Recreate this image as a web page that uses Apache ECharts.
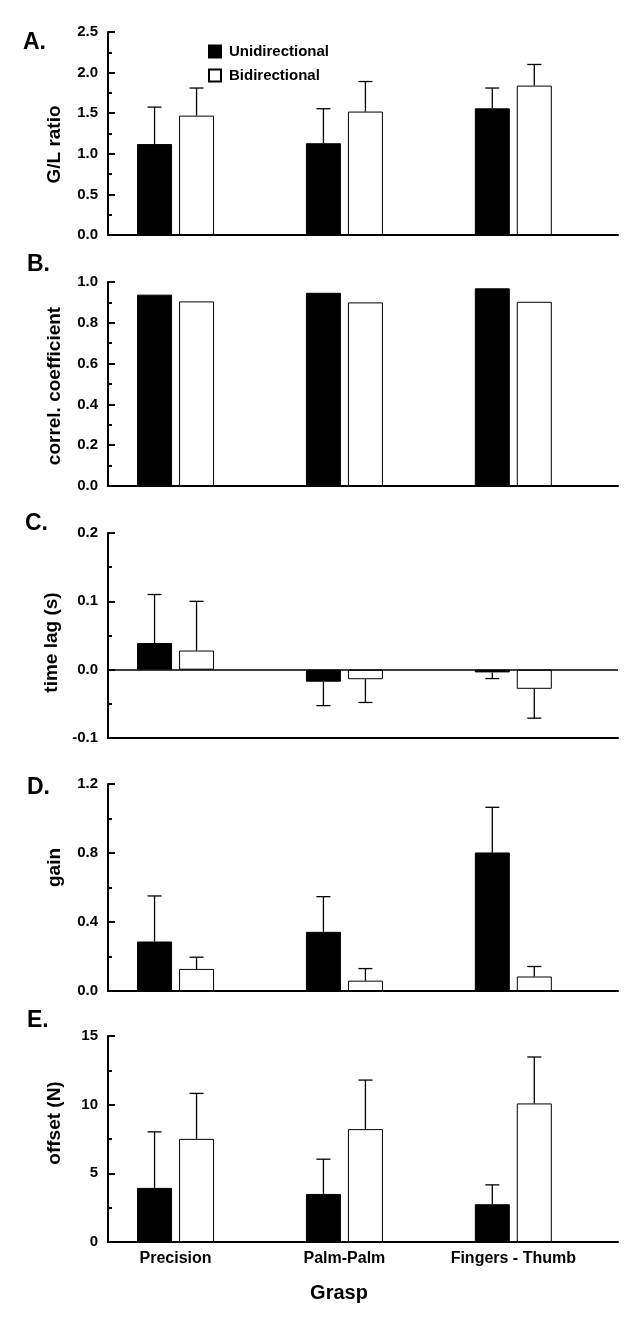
<!DOCTYPE html>
<html><head><meta charset="utf-8">
<script src="https://cdn.jsdelivr.net/npm/echarts@6/dist/echarts.min.js"></script>
<style>html,body{margin:0;padding:0;background:#fff}#c{width:643px;height:1325px}</style>
</head><body><div id="c"></div>
<script>
// ---------- data ----------
const categories = ['Precision', 'Palm-Palm', 'Fingers - Thumb'];
const seriesNames = ['Unidirectional', 'Bidirectional'];
const panelLabels = ['A.', 'B.', 'C.', 'D.', 'E.'];
const yTitles = ['G/L ratio', 'correl. coefficient', 'time lag (s)', 'gain', 'offset (N)'];
const xTitle = 'Grasp';

// A: G/L ratio
const glUni = [1.12, 1.13, 1.56];
const glUniErr = [0.455, 0.425, 0.25];
const glBi = [1.47, 1.52, 1.84];
const glBiErr = [0.34, 0.37, 0.26];
// B: correlation coefficient (no error bars)
const corUni = [0.938, 0.947, 0.969];
const corBi = [0.905, 0.900, 0.903];
// C: time lag (s)
const lagUni = [0.039, -0.0176, -0.004];
const lagUniErr = [0.071, 0.035, 0.009];
const lagBi = [0.028, -0.014, -0.028];
const lagBiErr = [0.072, 0.034, 0.043];
// D: gain
const gainUni = [0.287, 0.343, 0.803];
const gainUniErr = [0.264, 0.204, 0.262];
const gainBi = [0.128, 0.060, 0.084];
const gainBiErr = [0.068, 0.070, 0.058];
// E: offset (N)
const offUni = [3.94, 3.50, 2.75];
const offUniErr = [4.08, 2.53, 1.41];
const offBi = [7.51, 8.22, 10.09];
const offBiErr = [3.31, 3.57, 3.38];

// y axis ticks per panel: [min, max, interval, decimals]
const yTicksA = [0, 2.5, 0.5, 1];
const yTicksB = [0, 1.0, 0.2, 1];
const yTicksC = [-0.1, 0.2, 0.1, 1];
const yTicksD = [0, 1.2, 0.4, 1];
const yTicksE = [0, 15, 5, 0];

// ---------- layout / style ----------
const panels = [
  {uni: glUni, uniErr: glUniErr, bi: glBi, biErr: glBiErr, y: yTicksA, top: 32, h: 203, lab: [23, 31], namePad: [0, 22, 0, 0]},
  {uni: corUni, uniErr: null, bi: corBi, biErr: null, y: yTicksB, top: 282, h: 204, lab: [27, 253], namePad: [0, 4, 0, 0]},
  {uni: lagUni, uniErr: lagUniErr, bi: lagBi, biErr: lagBiErr, y: yTicksC, top: 533, h: 205, lab: [25, 512], namePad: [0, 14, 0, 0]},
  {uni: gainUni, uniErr: gainUniErr, bi: gainBi, biErr: gainBiErr, y: yTicksD, top: 784, h: 207, lab: [27, 776], namePad: [0, 0, 0, 40]},
  {uni: offUni, uniErr: offUniErr, bi: offBi, biErr: offBiErr, y: yTicksE, top: 1036, h: 206, lab: [27, 1009], namePad: [0, 0, 0, 32]}
];
const BAR_W = 35, BAR_GAP = 7, HALF = (BAR_W + BAR_GAP) / 2, CAP = 7;
const FONT = 'Liberation Sans, Arial, sans-serif';

function errRender(side) {
  return function (params, api) {
    const x = api.value(0), v = api.value(1), e = api.value(2);
    const dir = v < 0 ? -1 : 1;
    const p0 = api.coord([x, v]);
    const p1 = api.coord([x, v + dir * e]);
    const cx = p0[0] + side * HALF;
    const st = {stroke: '#000', lineWidth: 1.3};
    return {type: 'group', children: [
      {type: 'line', shape: {x1: cx, y1: p0[1], x2: cx, y2: p1[1]}, style: st},
      {type: 'line', shape: {x1: cx - CAP, y1: p1[1], x2: cx + CAP, y2: p1[1]}, style: st}
    ]};
  };
}

const grid = [], xAxis = [], yAxis = [], series = [], graphic = [];
panels.forEach((p, i) => {
  grid.push({left: 108, right: 25, top: p.top, height: p.h});
  const last = i === panels.length - 1;
  xAxis.push({
    type: 'value', gridIndex: i, min: -0.4, max: 2.62,
    axisLine: {show: true, onZero: false, lineStyle: {color: '#000', width: 2}},
    axisTick: {show: false}, splitLine: {show: false},
    axisLabel: last ? {
      show: true, customValues: [0, 1, 2], margin: 9,
      formatter: v => categories[Math.round(v)] || '',
      color: '#000', fontFamily: FONT, fontWeight: 'bold', fontSize: 16
    } : {show: false}
  });
  const [mn, mx, iv, dec] = p.y;
  yAxis.push({
    type: 'value', gridIndex: i, min: mn, max: mx, interval: iv,
    name: yTitles[i], nameLocation: 'middle', nameGap: 44, nameRotate: 90,
    nameTextStyle: {color: '#000', fontFamily: FONT, fontWeight: 'bold', fontSize: 19, padding: p.namePad},
    axisLine: {show: true, onZero: false, lineStyle: {color: '#000', width: 2}},
    axisTick: {show: true, inside: true, length: 7, lineStyle: {color: '#000', width: 2}},
    minorTick: {show: true, splitNumber: 2, length: 4, lineStyle: {color: '#000', width: 2}},
    splitLine: {show: false},
    axisLabel: {margin: 10, color: '#000', fontFamily: FONT, fontWeight: 'bold', fontSize: 15,
      formatter: v => Number(v).toFixed(dec)}
  });
  const uniData = p.uni.map((v, k) => [k, v]);
  const biData = p.bi.map((v, k) => [k, v]);
  series.push({
    name: seriesNames[0], type: 'bar', xAxisIndex: i, yAxisIndex: i,
    data: uniData, barWidth: BAR_W, barGap: (BAR_GAP / BAR_W * 100) + '%',
    itemStyle: {color: '#000', borderColor: '#000', borderWidth: 1},
    markLine: i === 2 ? {symbol: 'none', silent: true, label: {show: false},
      lineStyle: {color: '#000', width: 1.5, type: 'solid'}, data: [{yAxis: 0}]} : undefined
  });
  series.push({
    name: seriesNames[1], type: 'bar', xAxisIndex: i, yAxisIndex: i,
    data: biData, barWidth: BAR_W, barGap: (BAR_GAP / BAR_W * 100) + '%',
    itemStyle: {color: '#fff', borderColor: '#000', borderWidth: 1}
  });
  if (p.uniErr) {
    series.push({type: 'custom', xAxisIndex: i, yAxisIndex: i, z: 5,
      data: p.uni.map((v, k) => [k, v, p.uniErr[k]]), renderItem: errRender(-1)});
    series.push({type: 'custom', xAxisIndex: i, yAxisIndex: i, z: 5,
      data: p.bi.map((v, k) => [k, v, p.biErr[k]]), renderItem: errRender(1)});
  }
  graphic.push({type: 'text', left: p.lab[0], top: p.lab[1],
    style: {text: panelLabels[i], fill: '#000', font: 'bold 23px ' + FONT}});
});
graphic.push({type: 'text', x: 339, y: 1293,
  style: {text: xTitle, fill: '#000', font: 'bold 20px ' + FONT, align: 'center', verticalAlign: 'middle'}});

const chart = echarts.init(document.getElementById('c'), null, {renderer: 'canvas'});
chart.setOption({
  animation: false,
  backgroundColor: '#fff',
  grid, xAxis, yAxis, series, graphic,
  legend: {
    data: seriesNames, orient: 'vertical', left: 208, top: 44, padding: 0,
    icon: 'rect', itemWidth: 12, itemHeight: 12, itemGap: 9,
    textStyle: {color: '#000', fontFamily: FONT, fontWeight: 'bold', fontSize: 15, padding: [0, 0, 0, 3]}
  }
});
</script></body></html>
